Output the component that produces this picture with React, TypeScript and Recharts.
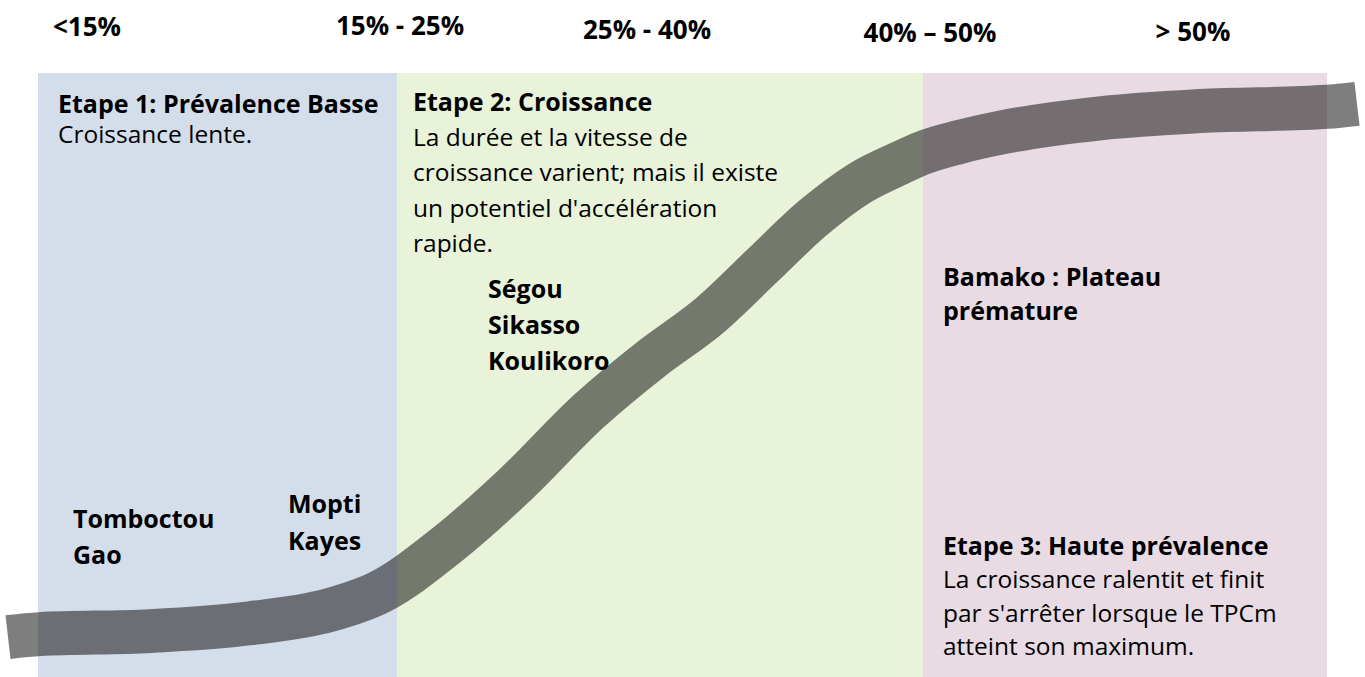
import { LineChart, Line, XAxis, YAxis, ReferenceArea } from "recharts";

// position along the chart (same units as the picture width) and level of the curve (0-100)
const curveX = [8, 40, 150, 250, 330, 380, 447, 513, 590, 650, 710, 763, 813, 860, 900, 923, 960, 1000, 1100, 1200, 1327, 1357];
const curveLevel = [6.6, 7.1, 7.6, 8.9, 11.1, 14.1, 21.9, 31.5, 44.2, 52.5, 59.9, 68.2, 76.0, 81.8, 85.1, 86.8, 88.6, 90.1, 92.5, 93.7, 94.4, 94.9];

const stageStart = [38, 397, 923];
const stageEnd = [397, 923, 1327];
const stageColors = ["#d4deea", "#e8f3da", "#e8dbe3"];

const rangeLabels = ["<15%", "15% - 25%", "25% - 40%", "40% – 50%", "> 50%"];
const rangeTicks = [87, 400, 647, 930, 1193];
const rangeTickY = [36, 35, 39, 42, 41];

const stage1Title = "Etape 1: Prévalence Basse";
const stage1Text = ["Croissance lente."];
const stage2Title = "Etape 2: Croissance";
const stage2Text = ["La durée et la vitesse de", "croissance varient; mais il existe", "un potentiel d'accélération", "rapide."];
const stage3Title = "Etape 3: Haute prévalence";
const stage3Text = ["La croissance ralentit et finit", "par s'arrêter lorsque le TPCm", "atteint son maximum."];
const lowRegions = ["Tomboctou", "Gao"];
const lowMidRegions = ["Mopti", "Kayes"];
const growthRegions = ["Ségou", "Sikasso", "Koulikoro"];
const plateauRegion = ["Bamako : Plateau", "prémature"];

const data = curveX.map((x, i) => ({ x, level: curveLevel[i] }));

const font = "'Open Sans', sans-serif";

function RangeTick(props: any) {
  const { x, index } = props;
  return (
    <text x={x} y={rangeTickY[index]} textAnchor="middle" fontFamily={font} fontWeight={700} fontSize={26} fill="#000">
      {rangeLabels[index]}
    </text>
  );
}

function Lines({ lines, left, top, step, bold, size }: { lines: string[]; left: number; top: number; step: number; bold?: boolean; size: number }) {
  return (
    <>
      {lines.map((t, i) => (
        <div
          key={i}
          style={{
            position: "absolute",
            left,
            top: top + i * step,
            transform: "translateY(-50%)",
            lineHeight: 1,
            fontFamily: font,
            fontSize: size,
            fontWeight: bold ? 700 : 400,
            color: "#000",
            whiteSpace: "nowrap",
          }}
        >
          {t}
        </div>
      ))}
    </>
  );
}

export default function App() {
  return (
    <div style={{ position: "absolute", left: 0, top: 0, width: 1365, height: 677, background: "#fff" }}>
      <LineChart width={1365} height={677} data={data} margin={{ top: 0, right: 0, bottom: 0, left: 0 }}>
        <XAxis
          dataKey="x"
          type="number"
          orientation="top"
          domain={[0, 1365]}
          ticks={rangeTicks}
          tick={<RangeTick />}
          axisLine={false}
          tickLine={false}
          height={73}
          interval={0}
        />
        <YAxis type="number" domain={[0, 100]} hide />
        {stageStart.map((s, i) => (
          <ReferenceArea key={i} x1={s} x2={stageEnd[i]} y1={0} y2={100} fill={stageColors[i]} fillOpacity={1} stroke="none" />
        ))}
        <Line
          dataKey="level"
          type="monotone"
          stroke="#141414"
          strokeOpacity={0.55}
          strokeWidth={44}
          dot={false}
          activeDot={false}
          isAnimationActive={false}
        />
      </LineChart>
      <Lines lines={[stage1Title]} left={58} top={103} step={28} bold size={25} />
      <Lines lines={stage1Text} left={58} top={134} step={28} size={24.5} />
      <Lines lines={[stage2Title]} left={413} top={101} step={35} bold size={25} />
      <Lines lines={stage2Text} left={413} top={137} step={35.3} size={24.5} />
      <Lines lines={growthRegions} left={488} top={288} step={36} bold size={25} />
      <Lines lines={plateauRegion} left={943} top={276} step={34} bold size={25} />
      <Lines lines={lowRegions} left={73} top={518} step={36} bold size={25} />
      <Lines lines={lowMidRegions} left={288} top={503} step={37} bold size={25} />
      <Lines lines={[stage3Title]} left={943} top={545} step={34} bold size={25} />
      <Lines lines={stage3Text} left={943} top={579} step={33.5} size={24.5} />
    </div>
  );
}
